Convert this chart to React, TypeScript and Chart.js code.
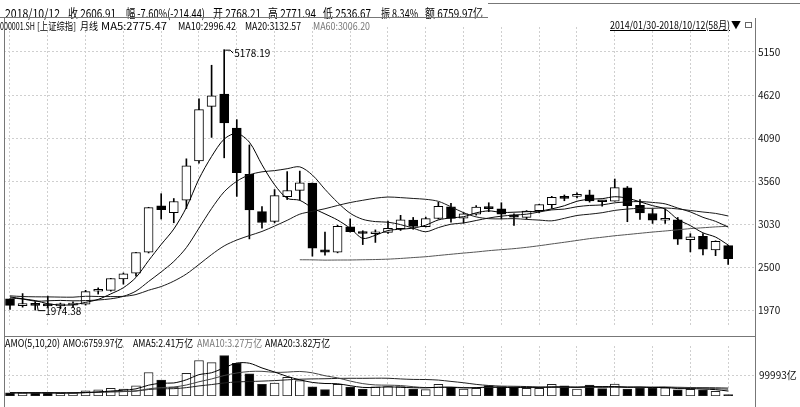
import React, { useEffect, useLayoutEffect, useRef } from "react";
import { Chart, registerables } from "chart.js";

Chart.register(...registerables);

// ---------------- data ----------------
const months: string[] = [
  "2014-01", "2014-02", "2014-03", "2014-04", "2014-05", "2014-06", "2014-07", "2014-08", "2014-09", "2014-10", "2014-11", "2014-12",
  "2015-01", "2015-02", "2015-03", "2015-04", "2015-05", "2015-06", "2015-07", "2015-08", "2015-09", "2015-10", "2015-11", "2015-12",
  "2016-01", "2016-02", "2016-03", "2016-04", "2016-05", "2016-06", "2016-07", "2016-08", "2016-09", "2016-10", "2016-11", "2016-12",
  "2017-01", "2017-02", "2017-03", "2017-04", "2017-05", "2017-06", "2017-07", "2017-08", "2017-09", "2017-10", "2017-11", "2017-12",
  "2018-01", "2018-02", "2018-03", "2018-04", "2018-05", "2018-06", "2018-07", "2018-08", "2018-09", "2018-10",
];

const opens: number[] = [
  2112.13, 2030.65, 2052.0, 2036.3, 2026.5, 2036.5, 2046.6, 2206.4, 2217.3, 2358.3, 2430.3, 2688.9,
  3258.6, 3174.4, 3328.0, 3810.3, 4480.5, 4633.1, 4214.2, 3643.6, 3186.6, 3067.0, 3371.0, 3448.0,
  3536.6, 2716.6, 2688.0, 3000.5, 2936.0, 2913.5, 2931.0, 2977.6, 3083.4, 3002.3, 3101.7, 3244.0,
  3105.3, 3155.0, 3234.0, 3219.8, 3146.0, 3115.0, 3196.7, 3272.0, 3363.0, 3374.0, 3393.0, 3311.0,
  3314.0, 3478.0, 3263.0, 3163.0, 3080.0, 3084.0, 2842.0, 2882.0, 2716.0, 2768.21,
];
const highs: number[] = [
  2113.11, 2177.98, 2079.6, 2146.9, 2061.1, 2075.1, 2218.1, 2248.6, 2365.6, 2431.3, 2685.0, 3239.4,
  3406.8, 3347.2, 3835.6, 4572.4, 4986.5, 5178.19, 4317.0, 4006.3, 3248.0, 3457.6, 3678.3, 3684.57,
  3538.69, 2934.0, 3018.8, 3097.0, 2951.0, 2961.3, 3069.9, 3140.5, 3114.6, 3119.0, 3301.2, 3288.2,
  3174.6, 3260.0, 3295.2, 3295.2, 3159.0, 3199.0, 3276.9, 3374.0, 3391.0, 3418.0, 3450.0, 3316.0,
  3587.0, 3495.0, 3334.0, 3220.0, 3219.0, 3114.0, 2915.0, 2915.0, 2827.0, 2771.94,
];
const lows: number[] = [
  1984.56, 2011.02, 1974.38, 2010.1, 1991.1, 2010.6, 2036.3, 2171.9, 2207.5, 2294.2, 2391.6, 2677.5,
  3095.1, 3049.1, 3224.0, 3781.1, 4099.1, 3847.9, 3373.5, 2850.71, 2983.5, 3048.0, 3334.4, 3327.8,
  2638.3, 2650.0, 2679.0, 2934.7, 2780.7, 2807.2, 2918.0, 2954.6, 2969.0, 2997.0, 3095.0, 3056.9,
  3044.2, 3143.0, 3186.0, 3097.0, 3016.5, 3092.0, 3171.0, 3226.0, 3320.0, 3355.0, 3303.0, 3254.0,
  3314.0, 3062.0, 3091.0, 3041.0, 3041.0, 2782.0, 2691.0, 2653.0, 2644.0, 2536.67,
];
const closes: number[] = [
  2033.08, 2056.3, 2033.31, 2026.36, 2039.21, 2048.33, 2201.56, 2217.2, 2363.87, 2420.18, 2682.83, 3234.68,
  3210.36, 3310.3, 3747.9, 4441.66, 4611.74, 4277.22, 3663.73, 3205.99, 3052.78, 3382.56, 3445.4, 3539.18,
  2737.6, 2687.98, 3003.92, 2938.32, 2916.62, 2929.61, 2979.34, 3085.49, 3004.7, 3100.49, 3250.03, 3103.64,
  3159.17, 3241.73, 3222.51, 3154.66, 3117.18, 3192.43, 3273.03, 3360.81, 3348.94, 3393.34, 3317.19, 3307.17,
  3480.83, 3259.41, 3168.9, 3082.23, 3095.47, 2847.42, 2876.4, 2725.25, 2821.35, 2606.91,
];
// monthly closes 2011-01 .. 2013-12 (used only for the moving averages)
const priorCloses: number[] = [
  2790.69, 2905.05, 2928.11, 2911.51, 2743.47, 2762.08, 2701.73, 2567.34, 2359.22, 2468.25, 2333.41, 2199.42,
  2292.61, 2428.49, 2262.79, 2396.32, 2372.23, 2225.43, 2103.63, 2047.52, 2086.17, 2068.88, 1980.12, 2269.13,
  2385.42, 2365.59, 2236.62, 2177.91, 2300.59, 1979.21, 1993.8, 2098.38, 2174.67, 2141.61, 2220.5, 2115.98,
];
// turnover (亿)
const amounts: number[] = [
  15400, 15400, 15400, 15400, 13000, 15400, 24850, 29600, 36700, 33100, 48500, 113600,
  76900, 42600, 110000, 171600, 160900, 195300, 157400, 106500, 56800, 62700, 89900, 74550,
  43800, 30800, 56800, 42600, 33100, 43800, 45000, 45000, 33100, 30800, 56800, 42600,
  33100, 36700, 50000, 45000, 42600, 36700, 36700, 56000, 48500, 33100, 52500, 35500,
  57000, 33000, 38500, 38500, 39700, 29500, 32000, 29500, 22500, 6759.97,
];
const priceTicks: number[] = [1970, 2500, 3030, 3560, 4090, 4620, 5150];
const volumeTicks: number[] = [99993];
const gridMonths: number[] = [0, 3, 6, 9, 12, 15, 18, 21, 24, 27, 30, 33, 36, 39, 42, 45, 48, 51, 54, 57];

// ---------------- helpers ----------------
const allCloses = [...priorCloses, ...closes];
function movingAvg(n: number) {
  const pts: { x: number; y: number }[] = [];
  closes.forEach((_, i) => {
    const j = priorCloses.length + i;
    if (j - n + 1 < 0) return;
    let s = 0;
    for (let k = j - n + 1; k <= j; k++) s += allCloses[k];
    pts.push({ x: i, y: s / n });
  });
  return pts;
}
function amountAvg(n: number) {
  return amounts.map((_, i) => {
    const a = Math.max(0, i - n + 1);
    let s = 0;
    for (let k = a; k <= i; k++) s += amounts[k];
    return { x: i, y: s / (i - a + 1) };
  });
}

const X_MIN = -0.476;
const X_MAX = 59.13;
const FONT_CJK = "'Noto Sans CJK SC', 'Noto Sans', sans-serif";
const GRID = "#cfcfcf";

function xScale() {
  return {
    type: "linear" as const,
    min: X_MIN,
    max: X_MAX,
    offset: false,
    grid: { color: GRID, drawTicks: false, offset: false },
    border: { display: false, dash: [2, 2] },
    ticks: { display: false },
    afterBuildTicks: (axis: any) => {
      axis.ticks = gridMonths.map((v) => ({ value: v }));
    },
    afterFit: (axis: any) => {
      axis.height = 0;
    },
  };
}

const extremesPlugin = {
  id: "extremes",
  afterDatasetsDraw(chart: any) {
    const xs = chart.scales.x;
    const ys = chart.scales.y;
    const ctx = chart.ctx;
    let hi = 0;
    let lo = 0;
    highs.forEach((v, i) => { if (v > highs[hi]) hi = i; });
    lows.forEach((v, i) => { if (v < lows[lo]) lo = i; });
    ctx.save();
    ctx.strokeStyle = "#000";
    ctx.fillStyle = "#000";
    ctx.lineWidth = 1;
    ctx.font = "10px 'Noto Sans CJK SC', sans-serif";
    ctx.textBaseline = "middle";
    ctx.textAlign = "left";
    let px = xs.getPixelForValue(hi);
    let py = ys.getPixelForValue(highs[hi]);
    ctx.beginPath();
    ctx.moveTo(px + 1, py + 0.5);
    ctx.lineTo(px + 6, py + 0.5);
    ctx.lineTo(px + 9, py + 3.5);
    ctx.stroke();
    ctx.fillText(highs[hi].toFixed(2), px + 10, py + 4);
    px = xs.getPixelForValue(lo);
    py = ys.getPixelForValue(lows[lo]);
    ctx.beginPath();
    ctx.moveTo(px + 2, py - 5);
    ctx.lineTo(px + 3, py + 0.5);
    ctx.lineTo(px + 10, py + 0.5);
    ctx.stroke();
    ctx.fillText(lows[lo].toFixed(2), px + 10, py + 1);
    ctx.restore();
  },
};

type Seg = { text: string; left: number; w: number; cy: number; size: number; color?: string; underline?: boolean };

const headerSegs: Seg[] = [
  { text: "2018/10/12", left: 5, w: 55, cy: 12.5, size: 12 },
  { text: "收 2606.91", left: 68, w: 48, cy: 12.5, size: 12 },
  { text: "幅 -7.60%(-214.44)", left: 126, w: 79, cy: 12.5, size: 12 },
  { text: "开 2768.21", left: 213, w: 48, cy: 12.5, size: 12 },
  { text: "高 2771.94", left: 268, w: 48, cy: 12.5, size: 12 },
  { text: "低 2536.67", left: 323, w: 48, cy: 12.5, size: 12 },
  { text: "振 8.34%", left: 381, w: 37, cy: 12.5, size: 12 },
  { text: "额 6759.97亿", left: 425, w: 58, cy: 12.5, size: 12 },
  { text: "000001.SH", left: 0, w: 35, cy: 25.5, size: 10 },
  { text: "[上证综指]", left: 37, w: 39, cy: 25.5, size: 10 },
  { text: "月线", left: 80, w: 18, cy: 25.5, size: 10 },
  { text: "MA5:2775.47", left: 101, w: 66, cy: 25.5, size: 10 },
  { text: "MA10:2996.42", left: 178, w: 58, cy: 25.5, size: 10 },
  { text: "MA20:3132.57", left: 245, w: 56, cy: 25.5, size: 10 },
  { text: "MA60:3006.20", left: 313, w: 57, cy: 25.5, size: 10, color: "#777" },
  { text: "2014/01/30-2018/10/12(58月)", left: 610, w: 120, cy: 25, size: 10.5, underline: true },
  { text: "AMO(5,10,20)", left: 5, w: 55, cy: 343, size: 10.5 },
  { text: "AMO:6759.97亿", left: 63, w: 60, cy: 343, size: 10.5 },
  { text: "AMA5:2.41万亿", left: 133, w: 60, cy: 343, size: 10.5 },
  { text: "AMA10:3.27万亿", left: 197, w: 65, cy: 343, size: 10.5, color: "#777" },
  { text: "AMA20:3.82万亿", left: 265, w: 65, cy: 343, size: 10.5 },
];

export default function App() {
  const priceRef = useRef<HTMLCanvasElement>(null);
  const volRef = useRef<HTMLCanvasElement>(null);
  const segRefs = useRef<(HTMLSpanElement | null)[]>([]);

  useLayoutEffect(() => {
    const fit = () => {
      segRefs.current.forEach((el, i) => {
        if (!el) return;
        el.style.transform = "none";
        const w = el.getBoundingClientRect().width;
        if (w > 0) {
          const k = Math.max(0.7, Math.min(1.15, headerSegs[i].w / w));
          el.style.transform = `scaleX(${k})`;
        }
      });
    };
    fit();
    if ((document as any).fonts && (document as any).fonts.ready) (document as any).fonts.ready.then(fit);
  }, []);

  useEffect(() => {
    document.body.style.margin = "0";
    const idx = months.map((_, i) => i);
    const isDown = idx.map((i) => closes[i] < opens[i]);

    const price = new Chart(priceRef.current!, {
      type: "bar",
      data: {
        datasets: [
          {
            type: "bar",
            label: "wick",
            data: idx.map((i) => ({ x: i, y: [lows[i], highs[i]] })) as any,
            backgroundColor: "#000",
            borderWidth: 0,
            barThickness: 1,
            grouped: false,
            order: 5,
          } as any,
          {
            type: "bar",
            label: "body",
            data: idx.map((i) => ({ x: i, y: [Math.min(opens[i], closes[i]), Math.max(opens[i], closes[i])] })) as any,
            backgroundColor: idx.map((i) => (isDown[i] ? "#000" : "#fff")),
            borderColor: "#000",
            borderWidth: 1,
            borderSkipped: false,
            barThickness: 9,
            minBarLength: 2,
            grouped: false,
            order: 4,
          } as any,
          { type: "line", label: "MA60", data: movingAvg(60), borderColor: "#555", borderWidth: 1, pointRadius: 0, tension: 0.2, order: 3 } as any,
          { type: "line", label: "MA20", data: movingAvg(20), borderColor: "#1a1a1a", borderWidth: 1, pointRadius: 0, tension: 0.3, order: 2 } as any,
          { type: "line", label: "MA10", data: movingAvg(10), borderColor: "#111", borderWidth: 1, pointRadius: 0, tension: 0.3, order: 1 } as any,
          { type: "line", label: "MA5", data: movingAvg(5), borderColor: "#000", borderWidth: 1, pointRadius: 0, tension: 0.3, order: 0 } as any,
        ],
      },
      options: {
        animation: false,
        responsive: false,
        devicePixelRatio: 1,
        layout: { padding: { left: 4, right: 0, top: 0, bottom: 0 } },
        plugins: { legend: { display: false }, tooltip: { enabled: false } },
        scales: {
          x: xScale() as any,
          y: {
            position: "right",
            min: 1767,
            max: 5457,
            grid: { color: GRID, drawTicks: false },
            border: { display: true, color: "#777", dash: [2, 2] },
            ticks: {
              color: "#111",
              padding: 3,
              font: { size: 10, family: FONT_CJK },
              callback: (v: any) => String(v),
            },
            afterBuildTicks: (axis: any) => {
              axis.ticks = priceTicks.map((v) => ({ value: v }));
            },
            afterFit: (axis: any) => {
              axis.width = 45;
            },
          } as any,
        },
      },
      plugins: [extremesPlugin],
    });

    const vol = new Chart(volRef.current!, {
      type: "bar",
      data: {
        datasets: [
          {
            type: "bar",
            label: "AMO",
            data: idx.map((i) => ({ x: i, y: amounts[i] })) as any,
            backgroundColor: idx.map((i) => (isDown[i] ? "#000" : "#fff")),
            borderColor: "#222",
            borderWidth: 1,
            borderSkipped: false,
            barThickness: 9,
            grouped: false,
            order: 4,
          } as any,
          { type: "line", label: "AMA20", data: amountAvg(20), borderColor: "#222", borderWidth: 1, pointRadius: 0, tension: 0.3, order: 2 } as any,
          { type: "line", label: "AMA10", data: amountAvg(10), borderColor: "#444", borderWidth: 1, pointRadius: 0, tension: 0.3, order: 1 } as any,
          { type: "line", label: "AMA5", data: amountAvg(5), borderColor: "#000", borderWidth: 1, pointRadius: 0, tension: 0.3, order: 0 } as any,
        ],
      },
      options: {
        animation: false,
        responsive: false,
        devicePixelRatio: 1,
        layout: { padding: { left: 4, right: 0, top: 0, bottom: 2 } },
        plugins: { legend: { display: false }, tooltip: { enabled: false } },
        scales: {
          x: xScale() as any,
          y: {
            position: "right",
            min: 0,
            max: 241400,
            grid: { color: GRID, drawTicks: false },
            border: { display: true, color: "#777", dash: [2, 2] },
            ticks: {
              color: "#111",
              padding: 4,
              font: { size: 10, family: FONT_CJK },
              callback: (v: any) => `${v}亿`,
            },
            afterBuildTicks: (axis: any) => {
              axis.ticks = volumeTicks.map((v) => ({ value: v }));
            },
            afterFit: (axis: any) => {
              axis.width = 45;
            },
          } as any,
        },
      },
    });

    return () => {
      price.destroy();
      vol.destroy();
    };
  }, []);

  const line = (left: number, top: number, width: number, height: number, color = "#777") => (
    <div style={{ position: "absolute", left, top, width, height, background: color, zIndex: 3 }} />
  );

  return (
    <div
      style={{
        position: "fixed",
        left: 0,
        top: 0,
        width: 800,
        height: 407,
        background: "#fff",
        overflow: "hidden",
        fontFamily: FONT_CJK,
      }}
    >
      <canvas ref={priceRef} width={800} height={318} style={{ position: "absolute", left: 0, top: 18, width: 800, height: 318 }} />
      <canvas ref={volRef} width={800} height={70} style={{ position: "absolute", left: 0, top: 336, width: 800, height: 70 }} />

      {/* frame */}
      {line(0, 17, 488, 1)}
      {line(488, 3, 312, 1)}
      {line(4, 18, 1, 389)}
      {line(4, 336, 751, 1)}
      {line(755, 18, 1, 389)}

      {headerSegs.map((s, i) => (
        <span
          key={i}
          ref={(el) => {
            segRefs.current[i] = el;
          }}
          style={{
            position: "absolute",
            left: s.left,
            top: s.cy - s.size / 2 - 1,
            fontSize: s.size,
            lineHeight: `${s.size + 2}px`,
            whiteSpace: "nowrap",
            color: s.color || "#000",
            textDecoration: s.underline ? "underline" : "none",
            transformOrigin: "left center",
            zIndex: 2,
          }}
        >
          {s.text}
        </span>
      ))}
      <span style={{ position: "absolute", left: 731, top: 19, fontSize: 10, lineHeight: "12px", color: "#000", zIndex: 2 }}>▼</span>
      <div style={{ position: "absolute", left: 745, top: 22, width: 5, height: 4, border: "1px solid #666", zIndex: 2 }} />
    </div>
  );
}
